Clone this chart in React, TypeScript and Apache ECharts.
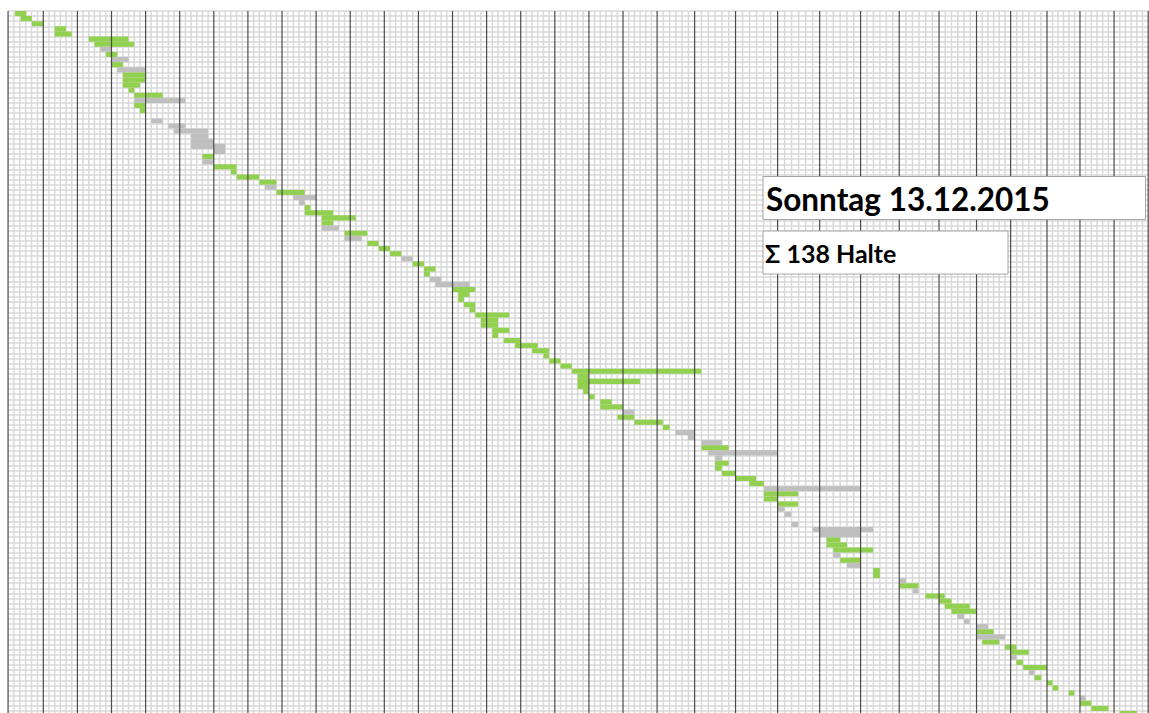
import React, { useEffect, useRef } from "react";
import * as echarts from "echarts";

// 138 stops (Halte), one row each
const ROWS = 138;
const X_MIN = -1;
const X_MAX = 1010;

// major (dark) grid lines on the time axis (the sheet's columns are not all equally wide)
const majorTicks = [
  -1, 30, 60, 90, 120, 150, 180, 210, 240, 270, 300, 330, 360, 390, 420, 450, 480, 510, 540, 570,
  603, 639, 676, 713, 749, 783, 818, 851, 881, 913, 942, 972, 1002,
];

// [row, start, end]
const greenBars: [number, number, number][] = [
  [0, 5, 15], [1, 10, 20], [2, 20, 30], [3, 40, 50], [4, 40, 55], [5, 70, 105], [6, 75, 110],
  [8, 85, 95], [10, 90, 100], [12, 100, 120], [13, 100, 120], [14, 100, 115], [15, 105, 110],
  [16, 110, 135], [18, 110, 120], [19, 115, 120], [28, 170, 180], [30, 180, 200], [31, 195, 200],
  [32, 200, 220], [33, 220, 235], [35, 235, 260], [38, 260, 265], [39, 260, 285], [40, 275, 305],
  [41, 275, 285], [43, 295, 315], [45, 315, 325], [46, 325, 335], [47, 335, 345], [49, 355, 365],
  [50, 365, 375], [51, 365, 370], [54, 390, 410], [55, 395, 405], [56, 395, 400], [57, 400, 410],
  [58, 405, 410], [59, 410, 440], [60, 415, 430], [61, 415, 430], [62, 425, 440], [63, 425, 430],
  [64, 435, 450], [65, 445, 465], [66, 460, 475], [67, 470, 475], [68, 475, 485], [69, 485, 495],
  [70, 495, 609], [71, 500, 510], [72, 500, 555], [73, 500, 510], [74, 505, 510], [75, 510, 515],
  [76, 520, 530], [77, 520, 540], [79, 535, 550], [80, 550, 575], [81, 575, 581], [85, 609, 633],
  [88, 621, 633], [89, 621, 627], [90, 627, 639], [91, 639, 657], [92, 651, 664], [94, 664, 694],
  [95, 664, 676], [96, 676, 694], [103, 719, 731], [104, 719, 737], [105, 725, 760], [107, 731, 749],
  [109, 760, 766], [110, 760, 766], [112, 783, 800], [114, 806, 823], [115, 818, 829],
  [116, 823, 845], [117, 829, 851], [121, 851, 866], [123, 856, 871], [124, 876, 886],
  [125, 881, 897], [127, 886, 892], [128, 892, 913], [130, 902, 908], [131, 913, 918],
  [132, 918, 923], [133, 932, 937], [135, 942, 952], [136, 952, 967], [137, 977, 992],
];

const grayBars: [number, number, number][] = [
  [7, 80, 90], [9, 90, 105], [11, 95, 120], [17, 110, 155], [21, 125, 135], [22, 140, 155],
  [23, 145, 175], [24, 160, 175], [25, 160, 180], [26, 160, 190], [27, 180, 190], [29, 170, 180],
  [34, 225, 235], [36, 250, 270], [37, 255, 260], [42, 275, 290], [44, 295, 310], [48, 345, 355],
  [52, 370, 380], [53, 375, 405], [78, 540, 550], [82, 586, 603], [83, 597, 603], [84, 609, 627],
  [86, 615, 676], [87, 621, 627], [93, 664, 749], [97, 676, 682], [98, 682, 688], [100, 688, 694],
  [101, 707, 760], [102, 713, 749], [106, 725, 731], [108, 737, 749], [111, 783, 789],
  [113, 795, 800], [118, 834, 840], [119, 840, 845], [120, 851, 861], [122, 851, 876],
  [126, 881, 886], [129, 897, 902], [134, 942, 947],
];

const titleText = "Sonntag 13.12.2015";
const countText = "\u03A3 138 Halte";

const GREEN = "#92D050";
const GRAY = "#BFBFBF";

// minor grid: each major interval split into 6 cells
const fineTicks: number[] = [];
for (let i = 0; i < majorTicks.length - 1; i++) {
  const a = majorTicks[i];
  const b = majorTicks[i + 1];
  for (let k = 1; k < 6; k++) fineTicks.push(a + ((b - a) * k) / 6);
}

const PX_PER_UNIT = 1.1367;
const ROW_H = 5.109;

function vLine(color: string, width: number) {
  return (params: any, api: any) => {
    const v = api.value(0);
    const p0 = api.coord([v, 0]);
    const p1 = api.coord([v, ROWS]);
    return {
      type: "line",
      shape: { x1: p0[0], y1: p0[1], x2: p1[0], y2: p1[1] },
      style: { stroke: color, lineWidth: width },
      silent: true,
    };
  };
}

function barItem(color: string) {
  return (params: any, api: any) => {
    const r = api.value(0);
    const s = api.value(1);
    const e = api.value(2);
    const p0 = api.coord([s, r]);
    const p1 = api.coord([e, r + 1]);
    return {
      type: "rect",
      shape: { x: p0[0], y: p0[1], width: p1[0] - p0[0], height: p1[1] - p0[1] },
      style: { fill: color },
    };
  };
}

export default function App() {
  const ref = useRef<HTMLDivElement>(null);

  useEffect(() => {
    if (!ref.current) return;
    const chart = echarts.init(ref.current, undefined, { renderer: "svg" });
    const gridWidth = (X_MAX - X_MIN) * PX_PER_UNIT;
    chart.setOption({
      animation: false,
      backgroundColor: "#ffffff",
      grid: {
        left: 9.2 - PX_PER_UNIT,
        top: 11,
        width: gridWidth,
        height: ROWS * ROW_H,
      },
      xAxis: {
        type: "value",
        min: X_MIN,
        max: X_MAX,
        axisLine: { show: false },
        axisTick: { show: false },
        axisLabel: { show: false },
        splitLine: { show: false },
      },
      yAxis: {
        type: "value",
        min: 0,
        max: ROWS,
        interval: 1,
        inverse: true,
        axisLine: { show: false },
        axisTick: { show: false },
        axisLabel: { show: false },
        splitLine: { show: true, lineStyle: { color: "#d9d9d9", width: 1.5 } },
      },
      series: [
        {
          type: "custom",
          name: "fine",
          z: 1,
          silent: true,
          renderItem: vLine("#d9d9d9", 1.5),
          encode: { x: 0, y: 1 },
          data: fineTicks.map((v) => [v, 0]),
        },
        {
          type: "custom",
          name: "gruen",
          z: 2,
          renderItem: barItem(GREEN),
          encode: { x: [1, 2], y: 0 },
          data: greenBars,
        },
        {
          type: "custom",
          name: "grau",
          z: 2,
          renderItem: barItem(GRAY),
          encode: { x: [1, 2], y: 0 },
          data: grayBars,
        },
        {
          type: "custom",
          name: "major",
          z: 3,
          silent: true,
          renderItem: vLine("#4a4a4a", 1.2),
          encode: { x: 0, y: 1 },
          data: majorTicks.map((v) => [v, 0]),
        },
      ],
      graphic: [
        {
          type: "rect",
          z: 10,
          shape: { x: 763, y: 176.5, width: 382.5, height: 43 },
          style: { fill: "#ffffff", stroke: "#a6a6a6", lineWidth: 1 },
        },
        {
          type: "text",
          z: 11,
          x: 766,
          y: 198.5,
          style: {
            text: titleText,
            font: "bold 31.5px Lato, 'Open Sans', sans-serif",
            fill: "#000000",
            verticalAlign: "middle",
            align: "left",
          },
        },
        {
          type: "rect",
          z: 10,
          shape: { x: 763, y: 231, width: 245, height: 43 },
          style: { fill: "#ffffff", stroke: "#a6a6a6", lineWidth: 1 },
        },
        {
          type: "text",
          z: 11,
          x: 765,
          y: 253,
          style: {
            text: countText,
            font: "bold 25px Lato, 'Open Sans', sans-serif",
            fill: "#000000",
            verticalAlign: "middle",
            align: "left",
          },
        },
      ],
    });
    return () => chart.dispose();
  }, []);

  return (
    <div
      ref={ref}
      style={{ position: "absolute", left: 0, top: 0, width: 1160, height: 720, background: "#fff" }}
    />
  );
}
